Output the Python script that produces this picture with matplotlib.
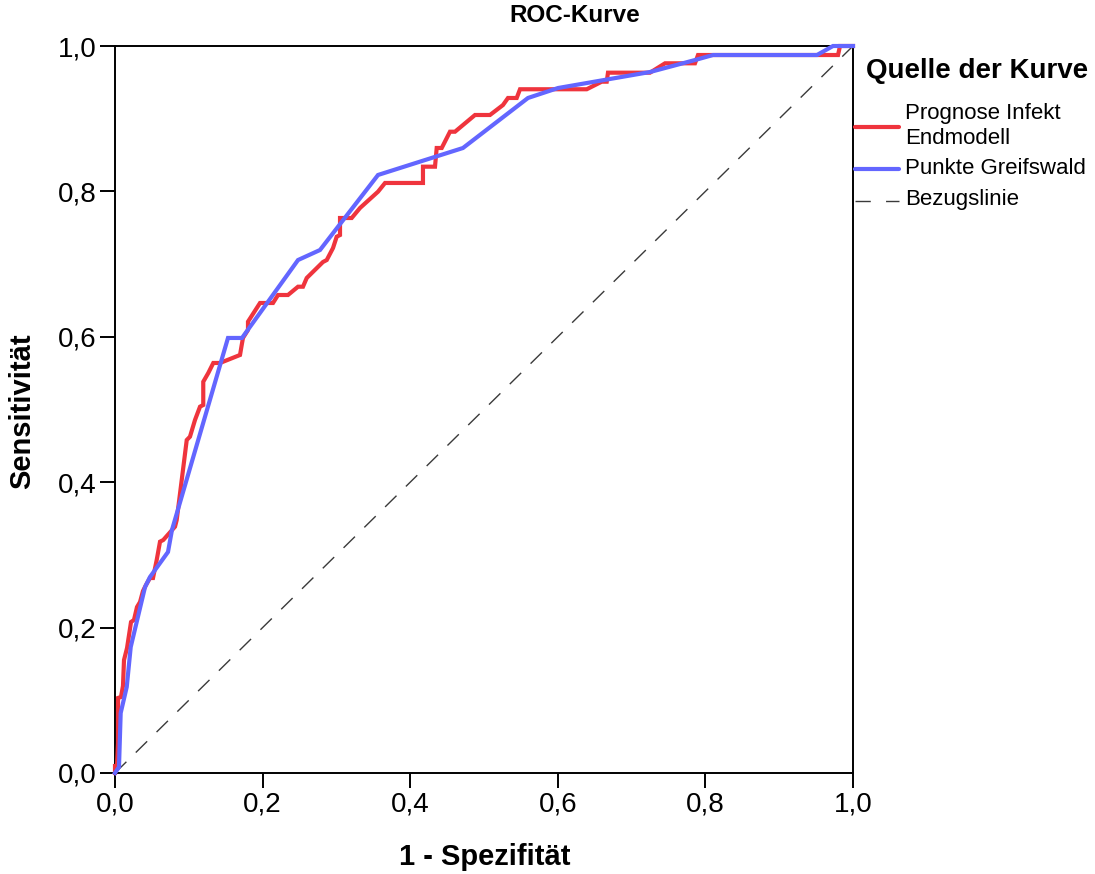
import matplotlib
matplotlib.use("Agg")
import matplotlib.pyplot as plt
from matplotlib.lines import Line2D

plt.rcParams["font.family"] = ["Liberation Sans", "DejaVu Sans"]

# ROC curve of the final infection model (1 - specificity, sensitivity)
prognose_fpr = [0.0, 0.0, 0.0027, 0.0041, 0.0041, 0.0081, 0.0108, 0.0122, 0.0163,
                0.0217, 0.0257, 0.0298, 0.0339, 0.0379, 0.0420, 0.0474, 0.0515,
                0.0565, 0.0610, 0.0654, 0.0813, 0.0836, 0.0972, 0.1016, 0.1084,
                0.1152, 0.1196, 0.1196, 0.1264, 0.1332, 0.1423, 0.1694, 0.1717,
                0.1734, 0.1802, 0.1802, 0.1965, 0.2141, 0.2209, 0.2344, 0.2480,
                0.2547, 0.2598, 0.2818, 0.2869, 0.2954, 0.3004, 0.3049, 0.3049,
                0.3207, 0.3320, 0.3564, 0.3659, 0.4173, 0.4173, 0.4336, 0.4359,
                0.4427, 0.4539, 0.4607, 0.4878, 0.5081, 0.5257, 0.5325, 0.5443,
                0.5488, 0.6392, 0.6595, 0.6663, 0.6680, 0.7249, 0.7453, 0.7859,
                0.7900, 0.9797, 0.9824, 1.0]
prognose_tpr = [0.0, 0.0096, 0.0096, 0.0413, 0.1032, 0.1045, 0.1197, 0.1554, 0.1719,
                0.2077, 0.2105, 0.2283, 0.2352, 0.2503, 0.2586, 0.2682, 0.2682,
                0.2930, 0.3182, 0.3205, 0.3388, 0.3480, 0.4580, 0.4626, 0.4856,
                0.5039, 0.5062, 0.5382, 0.5502, 0.5640, 0.5640, 0.5750, 0.5887,
                0.5984, 0.6094, 0.6208, 0.6465, 0.6465, 0.6575, 0.6575, 0.6689,
                0.6689, 0.6809, 0.7029, 0.7056, 0.7221, 0.7377, 0.7400, 0.7634,
                0.7634, 0.7772, 0.7996, 0.8116, 0.8116, 0.8340, 0.8340, 0.8597,
                0.8597, 0.8821, 0.8821, 0.9051, 0.9051, 0.9188, 0.9285, 0.9285,
                0.9405, 0.9405, 0.9509, 0.9509, 0.9633, 0.9633, 0.9762, 0.9762,
                0.9876, 0.9876, 1.0, 1.0]

# ROC curve of the Greifswald score
greifswald_fpr = [0.0, 0.0054, 0.0077, 0.0159, 0.0213, 0.0407, 0.0474, 0.0718, 0.0772,
                  0.1531, 0.1721, 0.2480, 0.2778, 0.3564, 0.4715, 0.5596, 0.6003,
                  0.7249, 0.7859, 0.8103, 0.9512, 0.9729, 1.0]
greifswald_tpr = [0.0, 0.0083, 0.0825, 0.1183, 0.1733, 0.2558, 0.2696, 0.3040, 0.3343,
                  0.5984, 0.5984, 0.7056, 0.7194, 0.8226, 0.8597, 0.9285, 0.9422,
                  0.9642, 0.9807, 0.9876, 0.9876, 1.0, 1.0]

ticks = [0.0, 0.2, 0.4, 0.6, 0.8, 1.0]
tick_labels = ["0,0", "0,2", "0,4", "0,6", "0,8", "1,0"]

series_names = ["Prognose Infekt\nEndmodell", "Punkte Greifswald", "Bezugslinie"]
RED = "#EF343D"
BLUE = "#6366FF"
REF = "#3A3A3A"

W, H = 1095, 874
fig = plt.figure(figsize=(W / 100, H / 100), dpi=100)
ax = fig.add_axes([115 / W, (H - 773) / H, (853 - 115) / W, (773 - 46) / H])

# diagonal reference line
ax.plot([0, 1], [0, 1], color=REF, lw=1.0, dashes=(11.5, 9.5), zorder=2)
ax.plot(prognose_fpr, prognose_tpr, color=RED, lw=3.0, zorder=4, clip_on=False,
        solid_joinstyle="miter")
ax.plot(greifswald_fpr, greifswald_tpr, color=BLUE, lw=3.0, zorder=5, clip_on=False,
        solid_joinstyle="miter")

ax.set_xlim(0, 1)
ax.set_ylim(0, 1)
ax.set_xticks(ticks)
ax.set_xticklabels(tick_labels)
ax.set_yticks(ticks)
ax.set_yticklabels(tick_labels)
ax.tick_params(axis="both", direction="out", length=11, width=1.4, labelsize=20,
               pad=2, colors="black")
for sp in ax.spines.values():
    sp.set_linewidth(1.4)
    sp.set_color("black")
    sp.set_zorder(3)

fig.text(575 / W, 1 - 16 / H, "ROC-Kurve", ha="center", va="center",
         fontsize=17.5, fontweight="bold")
fig.text(485 / W, 1 - 857 / H, "1 - Spezifität", ha="center", va="center",
         fontsize=21, fontweight="bold")
fig.text(22 / W, 1 - 411 / H, "Sensitivität", ha="center", va="center",
         rotation=90, fontsize=21, fontweight="bold")

# legend block to the right of the plot
fig.text(866 / W, 1 - 71 / H, "Quelle der Kurve", ha="left", va="center",
         fontsize=20, fontweight="bold")
legend_rows = [
    (series_names[0], 127, dict(color=RED, lw=3.0, solid_capstyle="round")),
    (series_names[1], 169, dict(color=BLUE, lw=3.0, solid_capstyle="round")),
    (series_names[2], 201, dict(color=REF, lw=1.0, dashes=(11, 11))),
]
for label, ypx, style in legend_rows:
    yf = 1 - ypx / H
    fig.add_artist(Line2D([855 / W, 899 / W], [yf, yf], transform=fig.transFigure,
                          **style))
    fig.text(905 / W, 1 - (ypx - 1) / H, label, ha="left", va="center",
             fontsize=16, linespacing=1.2)

fig.savefig("out.png", dpi=100)
